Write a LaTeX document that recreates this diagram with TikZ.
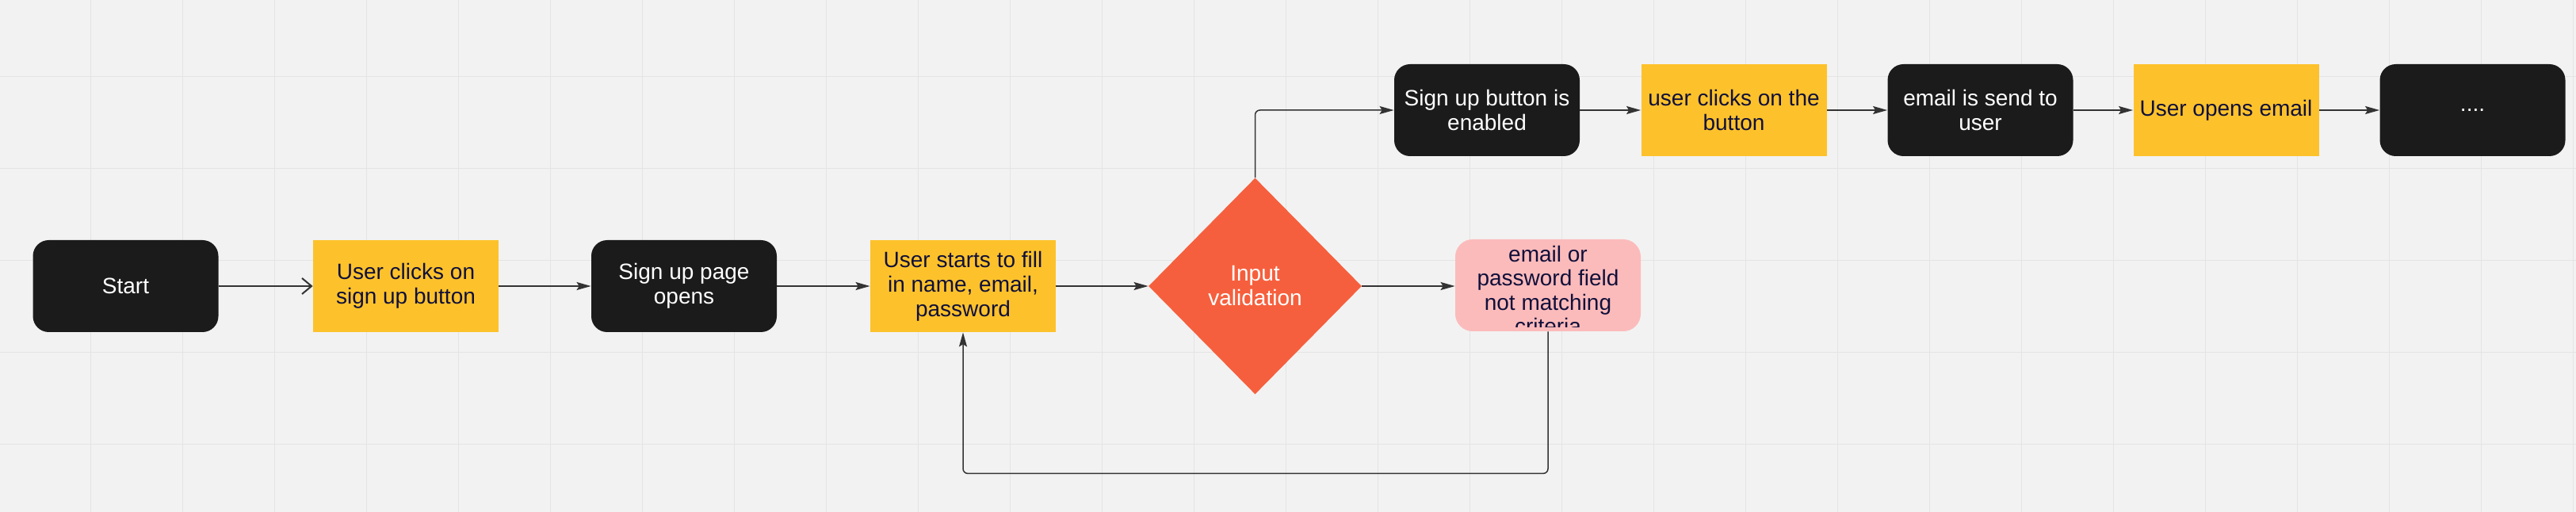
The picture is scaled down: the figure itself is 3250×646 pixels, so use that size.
\documentclass[tikz,border=0pt]{standalone}
\usepackage{fontspec}
\setmainfont{Liberation Sans}
\usetikzlibrary{shapes.geometric,arrows.meta}
\definecolor{bg}{HTML}{F2F2F2}
\definecolor{gridc}{HTML}{E4E4E4}
\definecolor{blk}{HTML}{1B1B1B}
\definecolor{ylw}{HTML}{FDC22B}
\definecolor{org}{HTML}{F65F3D}
\definecolor{pnk}{HTML}{FCBBBB}
\definecolor{navy}{HTML}{10103A}
\definecolor{linec}{HTML}{333333}
\begin{document}
\begin{tikzpicture}[x=0.5pt,y=-0.5pt,
  base/.style={minimum width=117pt, minimum height=58pt, inner sep=0pt, align=center,
    font=\fontsize{14}{15.5}\selectfont},
  darkbox/.style={base, fill=blk, text=white, rounded corners=10pt},
  yellowbox/.style={base, fill=ylw, text=navy},
  pinkbox/.style={base, fill=pnk, rounded corners=11pt},
  decision/.style={diamond, shape aspect=1, fill=org, text=white, inner sep=0pt,
    minimum width=134.5pt, minimum height=136.5pt, align=center,
    font=\fontsize{14}{15.5}\selectfont},
  conn/.style={draw=linec, line width=1pt},
  conn2/.style={draw=linec, line width=0.75pt},
  arr/.style={-{Stealth[length=9pt,width=5pt,inset=1.5pt]}},
  openarr/.style={-{Straight Barb[length=6pt,width=10pt,line width=1pt]}}
]
\useasboundingbox (0,0) rectangle (3250,646);
\fill[bg] (0,0) rectangle (3250,646);
\foreach \i in {0,...,27} \draw[gridc, line width=0.65pt] ({114.5+116*\i},0) -- ({114.5+116*\i},646);
\foreach \j in {1,...,5} \draw[gridc, line width=0.65pt] (0,{-19.3+116*\j}) -- (3250,{-19.3+116*\j});

% bottom row
\node[darkbox]   (start)  at (158.5,361) {Start};
\node[yellowbox] (click1) at (512,361)   {User clicks on\\sign up button};
\node[darkbox]   (page)   at (863,361)   {Sign up page\\opens};
\node[yellowbox] (fill)   at (1215,361)  {User starts to fill\\in name, email,\\password};
\node[decision]  (valid)  at (1583.5,361) {Input\\validation};
\node[pinkbox]   (pink)   at (1953,360)  {};
\begin{scope}
  \clip (1834,300) rectangle (2072,413);
  \node[align=center, text=navy, inner sep=0pt, font=\fontsize{14}{15.25}\selectfont]
    (pinktext) at (1953,366) {email or\\password field\\not matching\\criteria};
\end{scope}

% top row
\node[darkbox]   (enabled) at (1876,139)   {Sign up button is\\enabled};
\node[yellowbox] (click2)  at (2187.5,139) {user clicks on the\\button};
\node[darkbox]   (send)    at (2498.5,139) {email is send to\\user};
\node[yellowbox] (opens)   at (2808.5,139) {User opens email};
\node[darkbox]   (more)    at (3119.5,139) {....};

% connectors
\draw[conn, openarr] (start) -- (click1);
\draw[conn, arr] (click1) -- (page);
\draw[conn, arr] (page) -- (fill);
\draw[conn, arr] (fill) -- (valid.west);
\draw[conn, arr] (valid.east) -- (pink.west |- valid.east);
\draw[conn2, arr, rounded corners=3pt] (pink.south) -- ++(0,179) -| (fill.south);
\draw[conn2, arr, rounded corners=3pt] (valid.north) |- (enabled.west);
\draw[conn, arr] (enabled) -- (click2);
\draw[conn, arr] (click2) -- (send);
\draw[conn, arr] (send) -- (opens);
\draw[conn, arr] (opens) -- (more);
\end{tikzpicture}
\end{document}
